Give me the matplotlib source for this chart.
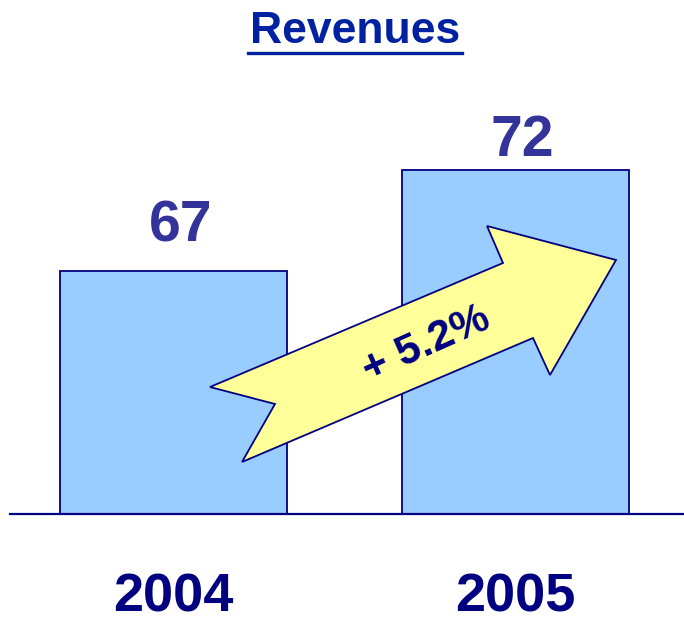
import matplotlib
matplotlib.use("Agg")
import matplotlib.pyplot as plt
from matplotlib.patches import Polygon
from matplotlib.lines import Line2D

# ---- data ----
years = ["2004", "2005"]
revenues = [67, 72]
growth_label = "+ 5.2%"
title = "Revenues"

# ---- style ----
W, H = 684, 622
bar_fill = "#99CCFF"
navy = "#000080"
value_color = "#333399"
title_color = "#0022A0"
arrow_fill = "#FFFF99"
font = "Liberation Sans"

fig = plt.figure(figsize=(W / 100, H / 100), dpi=100)
fig.patch.set_facecolor("white")

# axes in pixel layout
ax_left, ax_right, ax_base, ax_top = 8, 684, 514, 60
ax = fig.add_axes([ax_left / W, (H - ax_base) / H,
                   (ax_right - ax_left) / W, (ax_base - ax_top) / H])
x = list(range(len(years)))
ax.set_xlim(-0.484, 1.493)
ax.set_ylim(55, 55 + (ax_base - ax_top) / 20.235)
ax.axis("off")

bars = ax.bar(x, revenues, width=0.664, color=bar_fill, edgecolor=navy,
              linewidth=1.3, zorder=2)
ax.axhline(55, color=navy, lw=1.6, clip_on=False, zorder=3, xmin=0.003)

# value labels above bars
label_pad = [30, 14]  # px gap above bar (baseline)
for xi, v, pad in zip(x, revenues, label_pad):
    ax.annotate(str(v), (xi, v), xytext=(5, pad * 0.72), textcoords="offset points",
                ha="center", va="baseline", fontsize=41, fontweight="bold",
                color=value_color, family=font, zorder=4)

# year labels below axis
for xi, yr in zip(x, years):
    ax.annotate(yr, (xi, 55), xytext=(0, -98 * 0.72), textcoords="offset points",
                ha="center", va="baseline", fontsize=39, fontweight="bold",
                color=navy, family=font)

# growth arrow (decorative shape, in figure pixel coords)
arrow_px = [(210, 387), (503, 263), (487, 226), (616, 260), (550, 375),
            (533, 338), (242, 462), (275, 404)]
arrow_fig = [(px / W, (H - py) / H) for px, py in arrow_px]
fig.patches.append(Polygon(arrow_fig, closed=True, transform=fig.transFigure,
                           facecolor=arrow_fill, edgecolor=navy, linewidth=1.3,
                           zorder=5))
fig.text(426 / W, (H - 344) / H, growth_label, rotation=24, rotation_mode="anchor",
         ha="center", va="center", fontsize=31, fontweight="bold", color=navy,
         family=font, zorder=6)

# title with underline
t = fig.text(355 / W, (H - 43) / H, title, ha="center", va="baseline",
             fontsize=32, fontweight="bold", color=title_color, family=font)
fig.canvas.draw()
bb = t.get_window_extent()
uy = (H - 53) / H
fig.add_artist(Line2D([(bb.x0 - 2) / W, (bb.x1 + 2) / W], [uy, uy],
                      transform=fig.transFigure, color=title_color, lw=2.4))

fig.savefig("out.png", dpi=100, facecolor="white")
